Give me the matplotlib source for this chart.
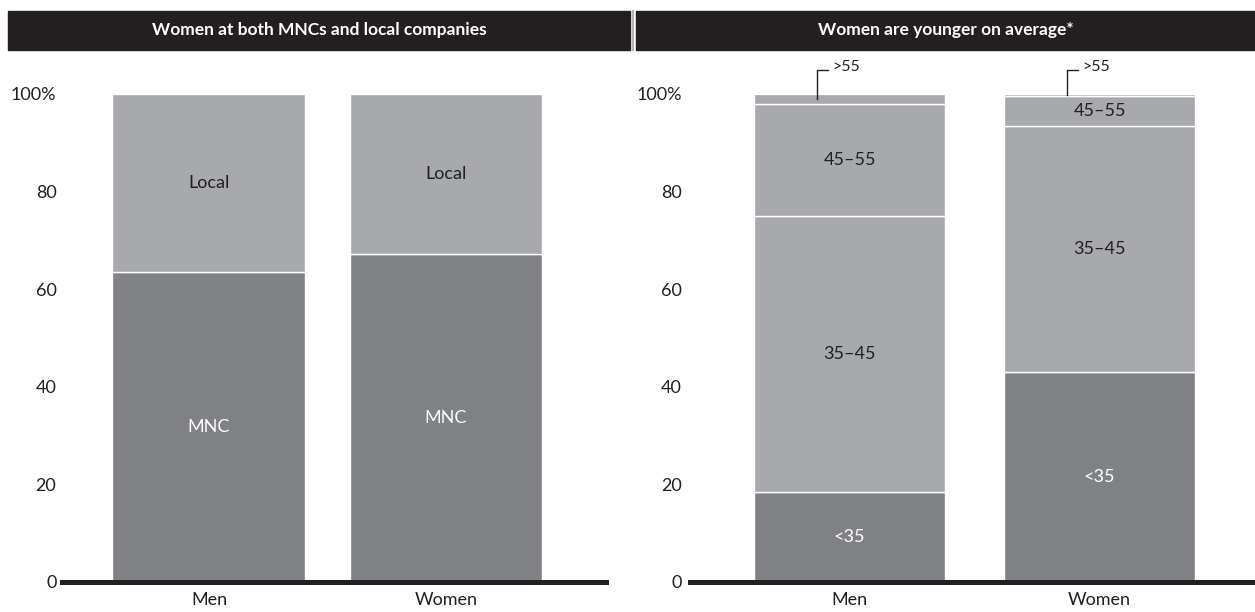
import numpy as np
import matplotlib.pyplot as plt
from matplotlib.patches import Rectangle

plt.rcParams['font.family'] = ['Lato', 'DejaVu Sans']

# Share of employees by company type (%)
groups = ["Men", "Women"]
mnc = [63.5, 67.2]
local = [36.5, 32.8]

# Age distribution (%)
age_bands = ["<35", "35\u201345", "45\u201355", ">55"]
age_men = [18.5, 56.5, 23.0, 2.0]
age_women = [43.0, 50.5, 6.0, 0.5]

titles = ["Women at both MNCs and local companies", "Women are younger on average*"]

DARK = "#808185"
LIGHT = "#a8a9ad"
INK = "#231f20"

W, H = 1255, 612
fig = plt.figure(figsize=(W / 100, H / 100), dpi=100)


def px_axes(x0, x1, y0, y1):
    return fig.add_axes([x0 / W, (H - y0) / H, (x1 - x0) / W, (y0 - y1) / H])


def style_axis(ax, xlim, pad):
    ax.set_ylim(0, 100)
    ax.set_xlim(*xlim)
    for s in ax.spines.values():
        s.set_visible(False)
    ax.set_yticks([0, 20, 40, 60, 80, 100])
    ax.set_yticklabels(["0", "20", "40", "60", "80", "100%"])
    ax.set_xticks(np.arange(len(groups)))
    ax.set_xticklabels(groups)
    ax.tick_params(axis="y", length=0, pad=pad, labelsize=13, labelcolor=INK)
    ax.tick_params(axis="x", length=0, pad=7, labelsize=13, labelcolor=INK)
    ax.axhline(0, color=INK, lw=3.6, clip_on=False, zorder=5)


# header bands
for (x0, x1), title in zip([(8, 630), (636, 1255)], titles):
    fig.patches.append(Rectangle((x0 / W, (H - 50) / H), (x1 - x0) / W, 39 / H,
                                 transform=fig.transFigure, color=INK))
    fig.text((x0 + x1) / 2 / W, (H - 30.5) / H, title, color="white",
             ha="center", va="center", fontsize=12.5, fontweight="bold")
fig.add_artist(plt.Line2D([633 / W, 633 / W], [(H - 50) / H, (H - 11) / H],
                          color="#b5b5b5", lw=1.5, transform=fig.transFigure))

# left panel: company type
ax1 = px_axes(62, 606, 582, 94)
x = np.arange(len(groups))
w1 = 0.814
ax1.bar(x, mnc, w1, color=DARK, edgecolor="white", lw=1)
ax1.bar(x, local, w1, bottom=mnc, color=LIGHT, edgecolor="white", lw=1)
for i in range(len(groups)):
    ax1.text(x[i], mnc[i] / 2, "MNC", ha="center", va="center", color="white", fontsize=13)
    ax1.text(x[i], mnc[i] + local[i] / 2, "Local", ha="center", va="center", color=INK, fontsize=13)
style_axis(ax1, (-0.62, 1.675), 4)

# right panel: age bands
ax2 = px_axes(690, 1255, 582, 94)
w2 = 0.764
ages = np.array([age_men, age_women])
bottoms = np.zeros(len(groups))
for j, band in enumerate(age_bands):
    vals = ages[:, j]
    ax2.bar(x, vals, w2, bottom=bottoms, color=DARK if j == 0 else LIGHT,
            edgecolor="white", lw=1)
    for i in range(len(groups)):
        if band == ">55":
            # callout for the thin top segment
            lx = x[i] - 0.13
            y_end = bottoms[i] + vals[i] / 2
            ax2.plot([lx, lx, lx + 0.045], [y_end, 104.9, 104.9], color=INK,
                     lw=1, clip_on=False)
            ax2.text(lx + 0.06, 105.6, band, ha="left", va="center",
                     color=INK, fontsize=11.5)
        else:
            ax2.text(x[i], bottoms[i] + vals[i] / 2, band, ha="center", va="center",
                     color="white" if j == 0 else INK, fontsize=13)
    bottoms += vals
style_axis(ax2, (-0.638, 1.622), 6)

fig.savefig("out.png", dpi=100)
